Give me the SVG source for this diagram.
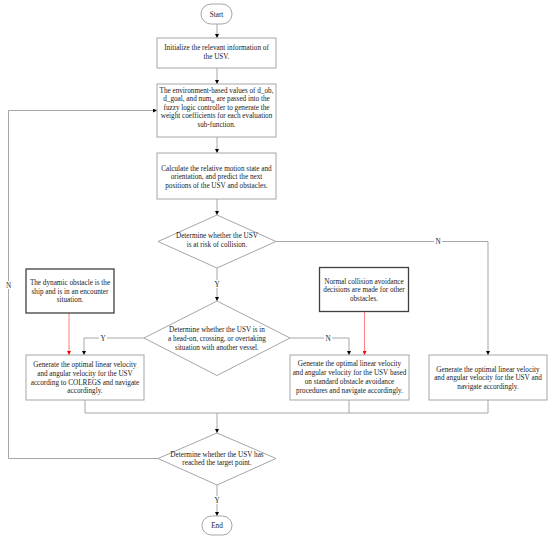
<svg xmlns="http://www.w3.org/2000/svg" width="550" height="541" viewBox="0 0 550 541">
<defs>
<style>
.box{fill:#fff;stroke:#a6a6a6;stroke-width:1}
.dark{fill:#fff;stroke:#404040;stroke-width:1.3}
.ln{fill:none;stroke:#a6a6a6;stroke-width:1}
.red{fill:none;stroke:#ff6060;stroke-width:0.8}
text{font-family:"Liberation Serif","Times New Roman",serif;font-size:7.2px;fill:#1a1a1a;text-anchor:middle}
.lbl{fill:#fff;stroke:none}
</style>
<marker id="ah" viewBox="0 0 6 6" refX="6" refY="3" markerWidth="4" markerHeight="4" orient="auto" markerUnits="userSpaceOnUse">
<path d="M0,0 L6,3 L0,6 z" fill="#000"/>
</marker>
<marker id="ahr" viewBox="0 0 6 6" refX="6" refY="3" markerWidth="4" markerHeight="4" orient="auto" markerUnits="userSpaceOnUse">
<path d="M0,0 L6,3 L0,6 z" fill="#ff0000"/>
</marker>
</defs>
<rect width="550" height="541" fill="#fff"/>
<g id="connectors">
<path class="ln" d="M217,24 V38" marker-end="url(#ah)"/>
<path class="ln" d="M217,68 V84" marker-end="url(#ah)"/>
<path class="ln" d="M217,137 V153" marker-end="url(#ah)"/>
<path class="ln" d="M217,199 V215" marker-end="url(#ah)"/>
<path class="ln" d="M217,268 V301" marker-end="url(#ah)"/>
<path class="ln" d="M276,241.5 H488 V355" marker-end="url(#ah)"/>
<path class="ln" d="M144,338 H84 V355" marker-end="url(#ah)"/>
<path class="ln" d="M290,338 H349 V355" marker-end="url(#ah)"/>
<path class="red" d="M69,313 V355" marker-end="url(#ahr)"/>
<path class="red" d="M364.5,311.5 V355" marker-end="url(#ahr)"/>
<path class="ln" d="M85,400 V413 H488 V400 M349,400 V413"/>
<path class="ln" d="M217,413 V433" marker-end="url(#ah)"/>
<path class="ln" d="M158,458.5 H8.5 V110.5 H157" marker-end="url(#ah)"/>
<path class="ln" d="M217,485 V516" marker-end="url(#ah)"/>
<rect class="lbl" x="213" y="280" width="8" height="8"/>
<text x="217" y="286.5">Y</text>
<rect class="lbl" x="434" y="237.5" width="8" height="8"/>
<text x="438" y="244">N</text>
<rect class="lbl" x="99" y="334" width="8" height="8"/>
<text x="103" y="340.5">Y</text>
<rect class="lbl" x="324" y="334" width="8" height="8"/>
<text x="328" y="340.5">N</text>
<rect class="lbl" x="4.5" y="281" width="8" height="8"/>
<text x="8.5" y="287.5">N</text>
<rect class="lbl" x="213" y="496" width="8" height="8"/>
<text x="217" y="502.5">Y</text>
</g>
<g id="start">
<rect class="box" x="201" y="4" width="31" height="20" rx="10"/>
<text x="216.5" y="16.7">Start</text>
</g>
<g id="init">
<rect class="box" x="157" y="38" width="119" height="30"/>
<text x="216.5" y="50">Initialize the relevant information of</text>
<text x="216.5" y="59">the USV.</text>
</g>
<g id="fuzzy">
<rect class="box" x="157" y="84" width="119" height="53"/>
<text x="216.5" y="92.5">The environment-based values of d_ob,</text>
<text x="216.5" y="101.3">d_goal, and num<tspan font-size="5" dy="1.5">B</tspan><tspan dy="-1.5"> are passed into the</tspan></text>
<text x="216.5" y="109.8">fuzzy logic controller to generate the</text>
<text x="216.5" y="118.2">weight coefficients for each evaluation</text>
<text x="216.5" y="126.7">sub-function.</text>
</g>
<g id="calc">
<rect class="box" x="157" y="153" width="119" height="46"/>
<text x="216.5" y="170.7">Calculate the relative motion state and</text>
<text x="216.5" y="179.1">orientation, and predict the next</text>
<text x="216.5" y="187.5">positions of the USV and obstacles.</text>
</g>
<g id="risk">
<polygon class="box" points="217,215 276,241.5 217,268 158,241.5"/>
<text x="217" y="238">Determine whether the USV</text>
<text x="217" y="246.5">is at risk of collision.</text>
</g>
<g id="encounter">
<polygon class="box" points="217,301 290,338 217,375.5 144,338"/>
<text x="217" y="332.4">Determine whether the USV is in</text>
<text x="217" y="341">a head-on, crossing, or overtaking</text>
<text x="217" y="349.7">situation with another vessel.</text>
</g>
<g id="note-ship">
<rect class="dark" x="26" y="269" width="88" height="44"/>
<text x="70" y="285">The dynamic obstacle is the</text>
<text x="70" y="294">ship and is in an encounter</text>
<text x="70" y="302.4">situation.</text>
</g>
<g id="note-other">
<rect class="dark" x="319.5" y="267.5" width="89" height="44"/>
<text x="364" y="284">Normal collision avoidance</text>
<text x="364" y="292.4">decisions are made for other</text>
<text x="364" y="301">obstacles.</text>
</g>
<g id="colregs">
<rect class="box" x="26" y="355" width="118" height="45"/>
<text x="85" y="367.4">Generate the optimal linear velocity</text>
<text x="85" y="376">and angular velocity for the USV</text>
<text x="85" y="384.7">according to COLREGS and navigate</text>
<text x="85" y="393.4">accordingly.</text>
</g>
<g id="standard">
<rect class="box" x="290" y="355" width="119" height="45"/>
<text x="349.5" y="366.4">Generate the optimal linear velocity</text>
<text x="349.5" y="375.2">and angular velocity for the USV based</text>
<text x="349.5" y="384">on standard obstacle avoidance</text>
<text x="349.5" y="392.8">procedures and navigate accordingly.</text>
</g>
<g id="normal">
<rect class="box" x="429" y="355" width="118" height="45"/>
<text x="488" y="371.7">Generate the optimal linear velocity</text>
<text x="488" y="380.3">and angular velocity for the USV and</text>
<text x="488" y="389">navigate accordingly.</text>
</g>
<g id="target">
<polygon class="box" points="217,433 276,458.5 217,485 158,458.5"/>
<text x="217" y="456.7">Determine whether the USV has</text>
<text x="217" y="465.2">reached the target point.</text>
</g>
<g id="end">
<rect class="box" x="202" y="516" width="30" height="19" rx="9.5"/>
<text x="217" y="527.6">End</text>
</g>
</svg>
